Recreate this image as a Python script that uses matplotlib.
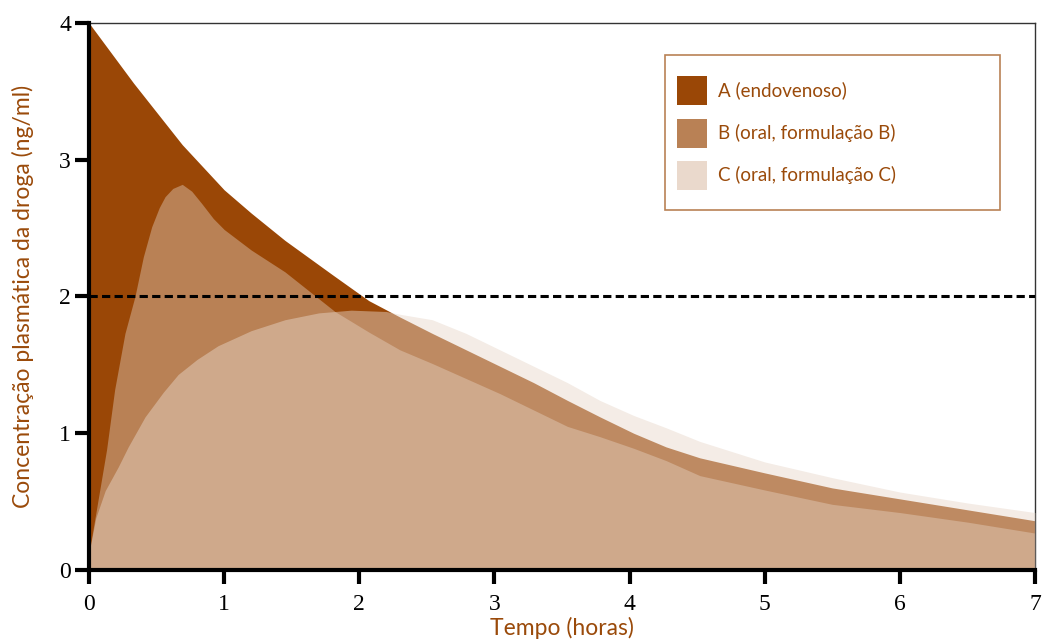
import numpy as np
import matplotlib.pyplot as plt
from matplotlib.patches import Patch, Rectangle

# A (endovenoso)
t_a = [0, 0.33, 0.69, 1.0, 1.2, 1.45, 1.8, 2.07, 2.3, 2.54, 2.79, 3.04, 3.29, 3.54, 3.78,
       4.03, 4.27, 4.52, 5.0, 5.5, 6.0, 6.5, 7.0]
conc_a = [4.0, 3.56, 3.11, 2.78, 2.61, 2.41, 2.16, 1.97, 1.85, 1.73, 1.61, 1.49, 1.37, 1.24, 1.12,
          1.0, 0.90, 0.82, 0.71, 0.60, 0.52, 0.44, 0.36]

# B (oral, formulação B)
t_b = [0, 0.13, 0.19, 0.266, 0.34, 0.402, 0.464, 0.52, 0.563, 0.62, 0.69, 0.76, 0.834, 0.92, 1.0,
       1.2, 1.45, 1.82, 2.07, 2.3, 2.54, 2.79, 3.04, 3.29, 3.54, 3.78, 4.03, 4.27, 4.52, 5.0,
       5.5, 6.0, 6.5, 7.0]
conc_b = [0.12, 0.88, 1.32, 1.73, 2.0, 2.29, 2.51, 2.65, 2.73, 2.79, 2.82, 2.77, 2.68, 2.57, 2.49,
          2.34, 2.18, 1.89, 1.74, 1.61, 1.51, 1.40, 1.29, 1.17, 1.05, 0.975, 0.89, 0.80, 0.69, 0.585,
          0.48, 0.42, 0.35, 0.27]

# C (oral, formulação C)
t_c = [0, 0.05, 0.12, 0.217, 0.29, 0.415, 0.55, 0.66, 0.8, 0.955, 1.2, 1.45, 1.7, 1.94, 2.2,
       2.3, 2.54, 2.79, 3.04, 3.29, 3.54, 3.78, 4.03, 4.27, 4.52, 5.0, 5.5, 6.0, 6.5, 7.0]
conc_c = [0.12, 0.38, 0.58, 0.755, 0.90, 1.12, 1.30, 1.43, 1.54, 1.64, 1.75, 1.83, 1.88, 1.90, 1.89,
          1.87, 1.83, 1.73, 1.61, 1.49, 1.37, 1.24, 1.13, 1.04, 0.94, 0.79, 0.675, 0.57, 0.49, 0.42]

limiar = 2.0

col_a = '#9a4706'
col_b = '#b98155'
col_c = '#e8d7ca'
brown_txt = '#9a4a0a'

fig = plt.figure(figsize=(10.42, 6.4), dpi=100)
ax = fig.add_axes([0.0854, 0.1094, 0.9079, 0.8547])

ax.fill_between(t_a, conc_a, 0, color=col_a, lw=0, zorder=1)
ax.fill_between(t_b, conc_b, 0, color=col_b, lw=0, zorder=2)
ax.fill_between(t_c, conc_c, 0, color=col_c, alpha=0.47, lw=0, zorder=3)
ax.axhline(limiar, color='black', lw=2.2, dashes=(2.7, 1.4), zorder=4)

ax.set_xlim(0, 7)
ax.set_ylim(0, 4)
ax.set_xticks(range(0, 8))
ax.set_yticks(range(0, 5))

for s in ['left', 'bottom']:
    ax.spines[s].set_linewidth(3)
    ax.spines[s].set_zorder(6)
for s in ['top', 'right']:
    ax.spines[s].set_linewidth(1)
    ax.spines[s].set_color('#333333')
ax.tick_params(axis='both', direction='out', length=10, width=3, labelsize=17)
ax.tick_params(axis='x', pad=7)
ax.tick_params(axis='y', pad=3)
for lab in ax.get_xticklabels() + ax.get_yticklabels():
    lab.set_family('Liberation Serif')

ax.set_xlabel('Tempo (horas)', family='Lato', fontsize=16.5, color=brown_txt, labelpad=2)
ax.set_ylabel('Concentração plasmática da droga (ng/ml)', family='Lato', fontsize=16.5,
              color=brown_txt, labelpad=18)

handles = [Patch(color=col_a, lw=0), Patch(color=col_b, lw=0), Patch(color='#ead9cc', lw=0)]
labels = ['A (endovenoso)', 'B (oral, formulação B)', 'C (oral, formulação C)']
leg = ax.legend(handles, labels, loc='upper left', bbox_to_anchor=(0.612, 0.92),
                frameon=False, borderpad=0, handlelength=1.6, handleheight=2.0,
                labelspacing=0.72, handletextpad=0.55, prop={'family': 'Lato', 'size': 13.5})
for txt in leg.get_texts():
    txt.set_color(brown_txt)
ax.add_patch(Rectangle((0.609, 0.658), 0.354, 0.283, transform=ax.transAxes, fill=False,
                       ec=col_b, lw=1.2, zorder=7))

plt.savefig('out.png', dpi=100)
